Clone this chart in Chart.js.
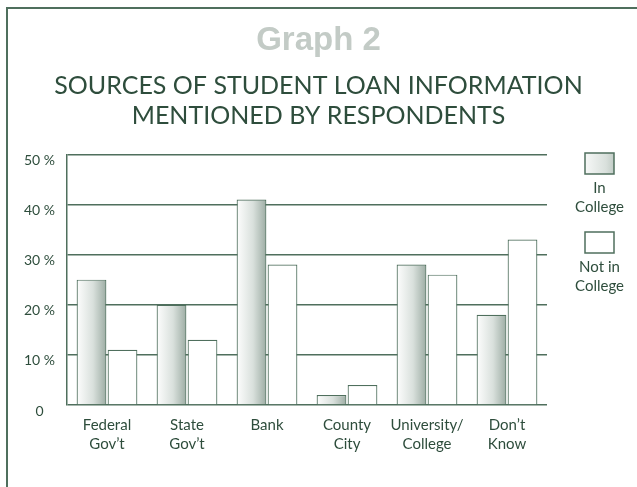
<!DOCTYPE html>
<html>
<head>
<meta charset="utf-8">
<script src="https://cdn.jsdelivr.net/npm/chart.js@4.4.1/dist/chart.umd.min.js"></script>
<style>
  html, body { margin: 0; padding: 0; background: #fff; }
  #wrap { width: 637px; height: 487px; position: relative; }
</style>
</head>
<body>
<div id="wrap"><canvas id="chart" width="637" height="487"></canvas></div>
<script>
// data
const categories = [['Federal', 'Gov\u2019t'], ['State', 'Gov\u2019t'], 'Bank', ['County', 'City'], ['University/', 'College'], ['Don\u2019t', 'Know']];
const inCollege = [25, 20, 41, 2, 28, 18];
const notInCollege = [11, 13, 28, 4, 26, 33];
const seriesLabels = [['In', 'College'], ['Not in', 'College']];
const yTicks = [0, 10, 20, 30, 40, 50];

const green = '#2e4d3c';
const lineGreen = '#4f6f5d';
const textFont = 'Lato, "Open Sans", sans-serif';

// gradient white -> grey green across one bar
function barGradient(ctx, left, right) {
    const g = ctx.createLinearGradient(left, 0, right, 0);
    g.addColorStop(0, '#ffffff');
    g.addColorStop(0.55, '#d9e0dc');
    g.addColorStop(1, '#9aaaa1');
    return g;
}

const inCollegeFill = (c) => {
    const chart = c.chart;
    const x = chart.scales && chart.scales.x;
    if (c.type !== 'data' || !x || !x.width) return '#dfe5e1';
    const catW = x.width / categories.length * 0.775;
    const center = x.getPixelForValue(c.dataIndex);
    const left = center - catW / 2;
    return barGradient(chart.ctx, left, left + catW / 2);
};

// frame lines + custom legend (box above two-line label)
const framePlugin = {
    id: 'frame',
    beforeDraw(chart) {
        const ctx = chart.ctx;
        ctx.save();
        ctx.strokeStyle = lineGreen;
        ctx.lineWidth = 2;
        ctx.beginPath();
        ctx.moveTo(7, 487);
        ctx.lineTo(7, 8);
        ctx.lineTo(637, 8);
        ctx.stroke();
        ctx.restore();
    },
    afterDraw(chart) {
        const ctx = chart.ctx;
        const boxX = 585, boxW = 29, boxH = 21;
        const tops = [153, 232];
        ctx.save();
        chart.data.datasets.forEach((ds, i) => {
            const top = tops[i];
            ctx.fillStyle = i === 0 ? barGradient(ctx, boxX - 6, boxX + boxW + 14) : '#ffffff';
            ctx.fillRect(boxX, top, boxW, boxH);
            ctx.strokeStyle = lineGreen;
            ctx.lineWidth = 1.5;
            ctx.strokeRect(boxX, top, boxW, boxH);
            ctx.fillStyle = green;
            ctx.font = '15px ' + textFont;
            ctx.textAlign = 'center';
            ctx.textBaseline = 'middle';
            ds.label.forEach((line, j) => {
                ctx.fillText(line, boxX + boxW / 2, top + 35 + j * 19);
            });
        });
        ctx.restore();
    }
};

new Chart(document.getElementById('chart'), {
    type: 'bar',
    data: {
        labels: categories,
        datasets: [{
            label: seriesLabels[0],
            data: inCollege,
            backgroundColor: inCollegeFill,
            borderColor: lineGreen,
            borderWidth: 1.2
        }, {
            label: seriesLabels[1],
            data: notInCollege,
            backgroundColor: '#ffffff',
            borderColor: lineGreen,
            borderWidth: 1.2
        }]
    },
    options: {
        responsive: false,
        animation: false,
        layout: { padding: 0 },
        datasets: { bar: { categoryPercentage: 0.775, barPercentage: 0.96 } },
        plugins: {
            legend: { display: false },
            tooltip: { enabled: false },
            title: {
                display: true,
                text: 'Graph 2',
                color: '#c3cbc6',
                font: { family: '"Liberation Sans", Arial, sans-serif', size: 33, weight: 'bold', lineHeight: 1.1 },
                padding: { top: 23, bottom: 12 }
            },
            subtitle: {
                display: true,
                text: ['SOURCES OF STUDENT LOAN INFORMATION', 'MENTIONED BY RESPONDENTS'],
                color: green,
                font: { family: textFont, size: 25, lineHeight: 1.2 },
                padding: { top: 0, bottom: 23 }
            }
        },
        scales: {
            x: {
                grid: { display: false, drawTicks: false },
                border: { display: false },
                ticks: {
                    color: green,
                    font: { family: textFont, size: 15, lineHeight: 1.27 },
                    padding: 11,
                    maxRotation: 0,
                    autoSkip: false
                },
                afterFit(scale) { scale.height = 82; }
            },
            y: {
                min: 0,
                max: 50,
                afterBuildTicks(scale) { scale.ticks = yTicks.map(v => ({ value: v })); },
                grid: { color: lineGreen, lineWidth: 1.5, drawTicks: false },
                border: { color: lineGreen, width: 1.5 },
                ticks: {
                    color: green,
                    font: { family: textFont, size: 14 },
                    padding: 12,
                    labelOffset: 6,
                    crossAlign: 'center',
                    callback: (v) => v === 0 ? '0' : v + ' %'
                },
                afterFit(scale) { scale.width = 67; }
            },
            // empty right axis only reserves room for the legend
            yr: {
                type: 'linear',
                position: 'right',
                grid: { display: false, drawTicks: false },
                border: { display: false },
                ticks: { display: false },
                afterFit(scale) { scale.width = 90; }
            }
        }
    },
    plugins: [framePlugin]
});
</script>
</body>
</html>
